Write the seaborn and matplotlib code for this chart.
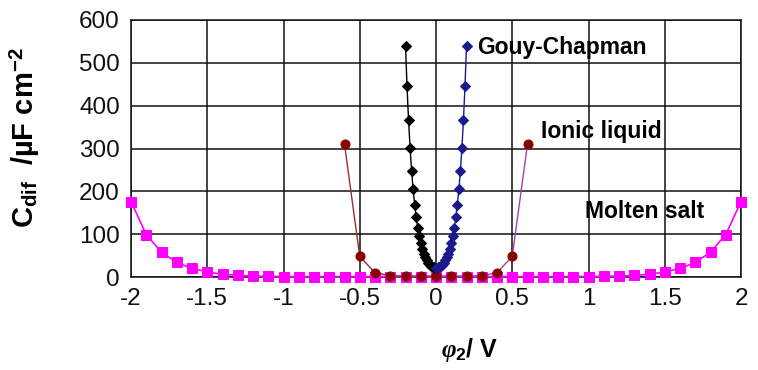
import matplotlib
matplotlib.use("Agg")
import matplotlib.pyplot as plt
import seaborn as sns
import pandas as pd

# ---------------- data ----------------
molten_x = [-2.0, -1.9, -1.8, -1.7, -1.6, -1.5, -1.4, -1.3, -1.2, -1.1, -1.0,
            -0.9, -0.8, -0.7, -0.6, -0.5, -0.4, -0.3, -0.2, -0.1, 0.0,
            0.1, 0.2, 0.3, 0.4, 0.5, 0.6, 0.7, 0.8, 0.9, 1.0,
            1.1, 1.2, 1.3, 1.4, 1.5, 1.6, 1.7, 1.8, 1.9, 2.0]
molten_y = [176, 99, 58, 34, 20, 12, 6, 4, 2, 1.5, 1,
            1, 1, 1, 1, 1, 1, 1, 1, 1, 1,
            1, 1, 1, 1, 1, 1, 1, 1, 1, 1,
            1.5, 2, 4, 6, 12, 20, 34, 58, 99, 176]

ionic_left_x = [-0.6, -0.5, -0.4, -0.3, -0.2, -0.1, 0.0]
ionic_left_y = [310, 48, 10, 3, 2, 2, 2]
ionic_right_x = [0.0, 0.1, 0.2, 0.3, 0.4, 0.5, 0.6]
ionic_right_y = [2, 2, 2, 3, 10, 48, 310]

gc_left_x = [-0.20, -0.19, -0.18, -0.17, -0.16, -0.15, -0.14, -0.13, -0.12, -0.11, -0.10,
             -0.09, -0.08, -0.07, -0.06, -0.05, -0.04, -0.03, -0.02, -0.01, 0.0]
gc_left_y = [540, 445, 366, 302, 248, 205, 169, 139, 115, 95, 79,
             65, 54, 46, 39, 33, 29, 26, 24, 22.5, 22]
gc_right_x = [0.0, 0.01, 0.02, 0.03, 0.04, 0.05, 0.06, 0.07, 0.08, 0.09, 0.10,
              0.11, 0.12, 0.13, 0.14, 0.15, 0.16, 0.17, 0.18, 0.19, 0.20]
gc_right_y = [22, 22.5, 24, 26, 29, 33, 39, 46, 54, 65, 79,
              95, 115, 139, 169, 205, 248, 302, 366, 445, 540]

x_ticks = [-2, -1.5, -1, -0.5, 0, 0.5, 1, 1.5, 2]
x_tick_labels = ["-2", "-1.5", "-1", "-0.5", "0", "0.5", "1", "1.5", "2"]
y_ticks = [0, 100, 200, 300, 400, 500, 600]
labels = ["Gouy-Chapman", "Ionic liquid", "Molten salt"]

# ---------------- styling ----------------
sns.set_theme(style="white")
plt.rcParams["font.family"] = ["Liberation Sans", "DejaVu Sans"]
plt.rcParams["text.color"] = "black"
plt.rcParams["mathtext.fontset"] = "custom"
plt.rcParams["mathtext.rm"] = "Liberation Sans:bold"
plt.rcParams["mathtext.bf"] = "Liberation Sans:bold"
plt.rcParams["mathtext.it"] = "Liberation Serif:bold:italic"

fig = plt.figure(figsize=(7.58, 3.70), dpi=100)
ax = fig.add_axes([131 / 758, 1 - 277 / 370, (741 - 131) / 758, (277 - 20) / 370])


def draw(xs, ys, color, mcolor, marker, ms, lw):
    df = pd.DataFrame({"x": xs, "y": ys})
    sns.lineplot(data=df, x="x", y="y", ax=ax, sort=False, estimator=None,
                 color=color, linewidth=lw, marker=marker, markersize=ms,
                 markerfacecolor=mcolor, markeredgecolor=mcolor, clip_on=False,
                 zorder=3)


draw(molten_x, molten_y, "#FF00FF", "#FF00FF", "s", 6.5, 1.2)
draw(ionic_left_x, ionic_left_y, "#9B2D2D", "#8B0000", "o", 6.5, 1.0)
draw(ionic_right_x, ionic_right_y, "#A040B0", "#8B0000", "o", 6.5, 1.0)
draw(gc_left_x, gc_left_y, "#000000", "#000000", "D", 5.5, 1.0)
draw(gc_right_x, gc_right_y, "#1A1A8C", "#1A1A8C", "D", 5.5, 1.0)

ax.set_xlim(-2, 2)
ax.set_ylim(0, 600)
ax.set_xticks(x_ticks)
ax.set_xticklabels(x_tick_labels)
ax.set_yticks(y_ticks)
ax.grid(True, color="#111111", linewidth=1.1)
ax.set_axisbelow(True)
for s in ax.spines.values():
    s.set_visible(True)
    s.set_color("#111111")
    s.set_linewidth(1.1)
ax.tick_params(axis="both", which="major", direction="out", length=5, width=1,
               color="#111111", labelsize=17.5, labelcolor="#111111", pad=3)
ax.set_xlabel("")
ax.set_ylabel("")

ax.text(0.268, 535, labels[0], fontsize=16.5, fontweight="bold", va="center", ha="left")
ax.text(0.686, 339, labels[1], fontsize=16.5, fontweight="bold", va="center", ha="left")
ax.text(0.98, 152, labels[2], fontsize=16.5, fontweight="bold", va="center", ha="left")

fig.text(25 / 758, 1 - 138 / 370,
         r"$\mathbf{C}_{\mathbf{dif}}$" + "  /µF cm" + r"$^{\mathbf{-2}}$",
         rotation=90, fontsize=21, fontweight="bold", ha="center", va="center")
fig.text(470 / 758, 1 - 350 / 370, r"$φ_{\mathbf{2}}$" + "/ V",
         fontsize=18, fontweight="bold", ha="center", va="center")

fig.savefig("out.png", dpi=100)
